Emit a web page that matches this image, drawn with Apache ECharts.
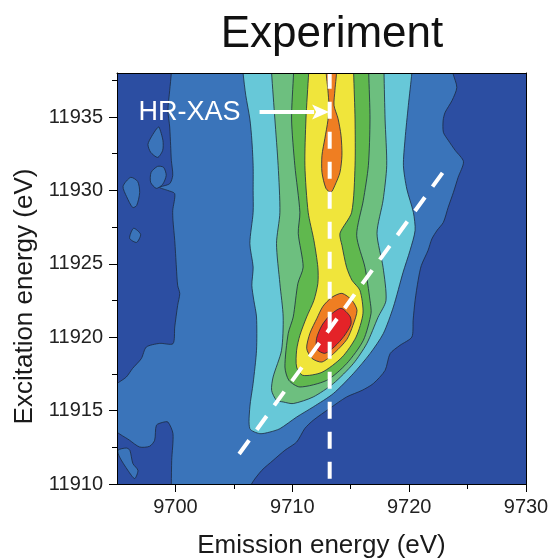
<!DOCTYPE html>
<html>
<head>
<meta charset="utf-8">
<script src="https://cdn.jsdelivr.net/npm/echarts@6/dist/echarts.min.js"></script>
<style>html,body{margin:0;padding:0;background:#fff}#chart{width:552px;height:560px}</style>
</head>
<body>
<div id="chart"></div>
<script>
// ---- axis ranges & ticks ----
const xRange = [9695, 9730];
const yRange = [11910, 11938];
const xMajorTicks = [9700, 9710, 9720, 9730];
const xMinorTicks = [9705, 9715, 9725];
const yMajorTicks = [11910, 11915, 11920, 11925, 11930, 11935];
const yMinorTicks = [11912.5, 11917.5, 11922.5, 11927.5, 11932.5, 11937.5];

// ---- contour regions (emission eV, excitation eV) ----
// level 1: medium blue
const level1Main = [
[9706.51,11909.6],[9706.51,11910.0],[9707.39,11910.93],[9708.36,11911.61],[9709.37,11912.30],[9710.37,11912.86],[9711.08,11913.79],[9711.79,11914.34],[9713.22,11915.16],[9714.65,11915.93],[9715.97,11916.38],[9716.93,11916.84],[9717.94,11917.74],[9718.37,11918.88],[9719.22,11919.45],[9720.23,11920.01],[9720.34,11921.15],[9720.51,11922.51],[9720.77,11923.88],[9721.04,11924.88],[9721.62,11925.92],[9721.94,11926.69],[9722.39,11927.28],[9722.93,11927.83],[9723.34,11928.85],[9723.79,11929.87],[9724.19,11930.89],[9724.65,11931.96],[9723.94,11932.73],[9723.34,11933.42],[9722.93,11933.96],[9722.91,11934.78],[9723.08,11935.32],[9723.68,11936.14],[9724.08,11937.02],[9723.74,11938.0],[9723.7,11938.4],
[9699.65,11938.4],[9699.65,11938.0],[9699.51,11936.82],[9699.36,11935.46],[9699.51,11934.32],[9699.59,11933.07],[9699.65,11932.05],[9699.77,11931.03],[9699.51,11930.46],[9698.65,11930.21],[9699.34,11930.0],[9699.94,11929.78],[9699.77,11928.64],[9699.79,11927.96],[9699.94,11926.60],[9700.08,11924.78],[9700.19,11923.54],[9700.37,11922.97],[9700.19,11922.17],[9699.94,11920.69],[9699.79,11919.56],[9698.65,11919.58],[9697.51,11919.33],[9697.08,11918.54],[9696.34,11917.88],[9695.80,11917.29],[9694.6,11916.50],[9694.6,11913.88],[9696.08,11912.98],[9696.94,11912.52],[9697.79,11912.57],[9698.22,11912.98],[9698.37,11914.0],[9698.91,11914.20],[9699.36,11914.22],[9699.79,11913.43],[9699.68,11911.61],[9699.65,11910.0],[9699.65,11909.6]
];
const level1IslandA = [[9698.59,11934.32],[9698.93,11933.41],[9698.91,11932.73],[9698.48,11932.25],[9697.88,11932.6],[9697.65,11933.14],[9697.97,11933.69],[9698.39,11934.2]];
const level1IslandB = [[9698.48,11931.64],[9698.99,11931.57],[9699.21,11931.03],[9698.91,11930.42],[9698.37,11930.14],[9697.88,11930.55],[9697.92,11931.23]];
const level1IslandC = [[9696.17,11930.89],[9696.77,11930.61],[9696.94,11929.86],[9696.68,11928.97],[9696.34,11928.84],[9695.82,11929.58],[9695.52,11930.28]];
const level1IslandD = [[9696.42,11927.42],[9697.02,11927.01],[9696.68,11926.46],[9696.08,11926.74]];
const level1IslandE = [[9695.80,11912.45],[9696.1,11912.3],[9696.36,11911.39],[9696.79,11910.93],[9696.51,11910.37],[9695.93,11910.93],[9695.22,11911.84],[9695.08,11912.3]];
// level 2: cyan
const level2 = [
[9705.79,11938.4],[9705.79,11938.0],[9706.02,11936.48],[9706.37,11934.86],[9706.54,11933.42],[9706.65,11931.69],[9706.65,11930.0],[9706.65,11928.51],[9706.37,11926.38],[9706.65,11924.78],[9706.54,11923.54],[9706.71,11922.51],[9706.94,11921.38],[9706.94,11919.11],[9706.65,11916.86],[9706.37,11915.25],[9706.37,11913.77],[9707.22,11913.43],[9708.08,11913.54],[9708.94,11913.77],[9710.37,11914.56],[9711.79,11915.25],[9713.51,11916.16],[9715.22,11917.52],[9716.65,11918.88],[9717.79,11920.25],[9718.65,11922.06],[9719.48,11924.42],[9720.08,11925.92],[9720.51,11927.28],[9720.36,11928.51],[9719.80,11930.10],[9719.51,11931.69],[9719.65,11933.50],[9719.93,11935.78],[9720.23,11938.0],[9720.23,11938.4]
];
// level 3: light green
const level3 = [
[9708.23,11938.4],[9708.23,11938.0],[9708.51,11934.86],[9708.79,11931.69],[9708.94,11928.51],[9708.65,11926.38],[9708.94,11923.65],[9709.22,11921.38],[9709.08,11919.11],[9708.36,11917.29],[9708.23,11916.38],[9708.65,11915.70],[9709.22,11915.59],[9710.08,11915.48],[9711.79,11915.93],[9713.51,11916.84],[9715.22,11918.20],[9716.37,11919.56],[9717.34,11921.36],[9718.02,11922.51],[9717.77,11924.76],[9717.25,11927.08],[9717.77,11929.33],[9718.08,11931.69],[9717.94,11934.86],[9717.85,11938.0],[9717.85,11938.4]
];
// level 4: green
const level4 = [
[9710.11,11938.4],[9710.11,11938.0],[9709.94,11934.86],[9710.22,11931.69],[9710.65,11928.51],[9710.51,11927.08],[9710.93,11924.78],[9710.48,11923.67],[9710.08,11921.38],[9709.65,11920.25],[9709.37,11917.97],[9709.71,11917.06],[9710.65,11916.61],[9712.94,11917.06],[9714.65,11918.20],[9716.08,11919.79],[9716.74,11921.63],[9716.65,11922.51],[9716.22,11924.76],[9715.51,11926.94],[9716.08,11929.33],[9716.51,11931.69],[9716.65,11934.86],[9716.54,11938.0],[9716.54,11938.4]
];
// level 5: yellow
const level5 = [
[9711.40,11938.4],[9711.40,11938.0],[9711.17,11934.86],[9711.08,11931.69],[9711.36,11928.51],[9711.85,11926.60],[9712.19,11924.76],[9712.19,11923.67],[9711.85,11922.51],[9711.23,11921.38],[9710.65,11920.13],[9710.37,11919.11],[9710.37,11917.97],[9710.91,11917.40],[9712.54,11917.61],[9714.25,11918.63],[9715.45,11920.0],[9716.05,11921.63],[9715.79,11923.19],[9715.11,11923.88],[9714.65,11924.76],[9714.25,11926.26],[9714.08,11927.08],[9715.08,11928.51],[9715.37,11931.69],[9715.37,11934.86],[9715.25,11938.0],[9715.25,11938.4]
];
// level 6: orange (two regions)
const level6Top = [[9712.94,11938.4],[9713.74,11938.4],[9713.65,11936.82],[9713.57,11935.80],[9713.91,11934.91],[9714.17,11933.75],[9714.25,11932.39],[9714.08,11931.23],[9713.65,11930.35],[9713.31,11929.87],[9712.88,11930.14],[9712.54,11931.23],[9712.54,11932.39],[9712.79,11933.55],[9713.05,11934.78],[9713.14,11935.80],[9713.05,11936.82]];
const level6Bottom = [[9714.25,11922.99],[9715.11,11922.51],[9715.54,11921.83],[9715.19,11920.81],[9714.68,11919.86],[9713.65,11918.97],[9712.54,11918.31],[9711.68,11918.56],[9711.23,11919.24],[9711.51,11920.27],[9712.11,11921.29],[9712.62,11922.10],[9713.39,11922.72]];
// level 7: red
const level7 = [[9714.17,11921.97],[9714.94,11921.42],[9715.02,11920.88],[9714.42,11920.06],[9713.65,11919.38],[9712.79,11918.90],[9712.11,11919.18],[9712.08,11919.93],[9712.54,11920.81],[9713.22,11921.49]];

// ---- annotations ----
const hrxasLine = [[9713.2, 11910.35], [9713.2, 11938]];
const diagonalLine = [[9705.25, 11911.82], [9723.08, 11931.44]];
const arrowStart = [9707.2, 11935.35];
const arrowEnd = [9713.15, 11935.35];
const labelText = 'HR-XAS';
const labelPos = [9701.2, 11935.3];

const FONT = 'Liberation Sans, Arial, Helvetica, sans-serif';
const levels = [
  {polys: [level1Main, level1IslandA, level1IslandB, level1IslandC, level1IslandD, level1IslandE], color: '#3a74ba'},
  {polys: [level2], color: '#67c8d8'},
  {polys: [level3], color: '#6dbf7f'},
  {polys: [level4], color: '#60b84e'},
  {polys: [level5], color: '#f0e53b'},
  {polys: [level6Top, level6Bottom], color: '#ef7e22'},
  {polys: [level7], color: '#e42328'}
];

const chart = echarts.init(document.getElementById('chart'), null, {renderer: 'canvas'});

const contourSeries = levels.map((lv, li) => ({
  type: 'custom',
  coordinateSystem: 'cartesian2d',
  xAxisIndex: 0, yAxisIndex: 0,
  clip: true,
  silent: true,
  z: 2 + li * 0.01,
  data: lv.polys.map(p => p[0]),
  renderItem: function (params, api) {
    const poly = lv.polys[params.dataIndex];
    const pts = poly.map(p => api.coord(p));
    return {
      type: 'polygon',
      shape: {points: pts, smooth: 0.25},
      style: {fill: lv.color, stroke: '#1c2a40', lineWidth: 0.8}
    };
  }
}));

const lineStyleDash = {color: '#ffffff', width: 4, type: [17, 13], cap: 'butt'};
const plainNumber = v => String(v);

const option = {
  animation: false,
  backgroundColor: '#ffffff',
  title: {
    text: 'Experiment', left: 327, top: 8, textAlign: 'center',
    textStyle: {fontFamily: FONT, fontSize: 44, fontWeight: 'normal', color: '#111'}
  },
  grid: {left: 117, right: 26, top: 73, bottom: 76, show: true, backgroundColor: '#2c4ea2', borderWidth: 0,
         containLabel: false, outerBoundsMode: 'none'},
  xAxis: [
    {type: 'value', min: xRange[0], max: xRange[1], position: 'bottom', z: 10,
     axisLine: {show: true, onZero: false, lineStyle: {color: '#000', width: 1}},
     axisTick: {show: true, inside: false, length: 8, customValues: xMajorTicks, lineStyle: {color: '#000'}},
     axisLabel: {customValues: xMajorTicks, formatter: plainNumber, margin: 13, fontSize: 20, color: '#222', fontFamily: FONT},
     splitLine: {show: false},
     name: 'Emission energy (eV)', nameLocation: 'middle', nameGap: 49,
     nameTextStyle: {fontFamily: FONT, fontSize: 26, color: '#1a1a1a'}},
    {type: 'value', min: xRange[0], max: xRange[1], position: 'bottom', z: 10,
     axisLine: {show: false, onZero: false},
     axisTick: {show: true, inside: false, length: 5, customValues: xMinorTicks, lineStyle: {color: '#000'}},
     axisLabel: {show: false}, splitLine: {show: false}},
    {type: 'value', min: xRange[0], max: xRange[1], position: 'top', z: 10,
     axisLine: {show: true, onZero: false, lineStyle: {color: '#000', width: 1}},
     axisTick: {show: false}, axisLabel: {show: false}, splitLine: {show: false}}
  ],
  yAxis: [
    {type: 'value', min: yRange[0], max: yRange[1], position: 'left', z: 10,
     axisLine: {show: true, onZero: false, lineStyle: {color: '#000', width: 1}},
     axisTick: {show: true, inside: false, length: 8, customValues: yMajorTicks, lineStyle: {color: '#000'}},
     axisLabel: {customValues: yMajorTicks, formatter: plainNumber, margin: 14, fontSize: 20, color: '#222', fontFamily: FONT},
     splitLine: {show: false},
     name: 'Excitation energy (eV)', nameLocation: 'middle', nameGap: 70,
     nameTextStyle: {fontFamily: FONT, fontSize: 26, color: '#1a1a1a', padding: [0, 36, 0, 0]}},
    {type: 'value', min: yRange[0], max: yRange[1], position: 'left', z: 10,
     axisLine: {show: false, onZero: false},
     axisTick: {show: true, inside: false, length: 5, customValues: yMinorTicks, lineStyle: {color: '#000'}},
     axisLabel: {show: false}, splitLine: {show: false}},
    {type: 'value', min: yRange[0], max: yRange[1], position: 'right', z: 10,
     axisLine: {show: true, onZero: false, lineStyle: {color: '#000', width: 1}},
     axisTick: {show: false}, axisLabel: {show: false}, splitLine: {show: false}}
  ],
  series: contourSeries.concat([
    {type: 'line', xAxisIndex: 0, yAxisIndex: 0, data: hrxasLine, showSymbol: false, symbol: 'none',
     lineStyle: lineStyleDash, z: 5, silent: true, clip: true},
    {type: 'line', xAxisIndex: 0, yAxisIndex: 0, data: diagonalLine, showSymbol: false, symbol: 'none',
     lineStyle: Object.assign({}, lineStyleDash, {dashOffset: 26}), z: 5, silent: true, clip: true},
    {type: 'custom', coordinateSystem: 'cartesian2d', xAxisIndex: 0, yAxisIndex: 0, z: 6, silent: true,
     data: [arrowStart],
     renderItem: function (params, api) {
       const a = api.coord(arrowStart), b = api.coord(arrowEnd), t = api.coord(labelPos);
       const head = 17, half = 7.5;
       return {type: 'group', children: [
         {type: 'line', shape: {x1: a[0], y1: a[1], x2: b[0] - head + 2, y2: b[1]},
          style: {stroke: '#fff', lineWidth: 4}},
         {type: 'polygon', shape: {points: [[b[0], b[1]], [b[0] - head, b[1] - half], [b[0] - head + 4, b[1]], [b[0] - head, b[1] + half]]},
          style: {fill: '#fff'}},
         {type: 'text', x: t[0], y: t[1],
          style: {text: labelText, fill: '#fff', fontFamily: FONT, fontSize: 27, align: 'center', verticalAlign: 'middle'}}
       ]};
     }}
  ])
};
chart.setOption(option);
</script>
</body>
</html>
